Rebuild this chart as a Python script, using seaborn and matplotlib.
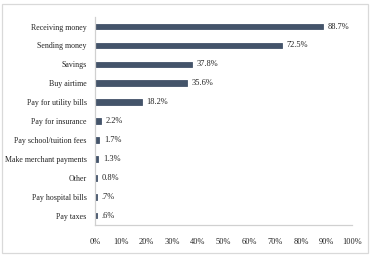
import pandas as pd
import matplotlib.pyplot as plt
import seaborn as sns
from matplotlib.patches import Rectangle

uses = ["Receiving money", "Sending money", "Savings", "Buy airtime",
        "Pay for utility bills", "Pay for insurance", "Pay school/tuition fees",
        "Make merchant payments", "Other", "Pay hospital bills", "Pay taxes"]
shares = [88.7, 72.5, 37.8, 35.6, 18.2, 2.2, 1.7, 1.3, 0.8, 0.7, 0.6]
value_labels = ["88.7%", "72.5%", "37.8%", "35.6%", "18.2%", "2.2%", "1.7%",
                "1.3%", "0.8%", ".7%", ".6%"]
xticks = [0, 10, 20, 30, 40, 50, 60, 70, 80, 90, 100]

sns.set_style("white")
plt.rcParams["font.family"] = ["Liberation Serif", "DejaVu Serif"]

df = pd.DataFrame({"use": uses, "share": shares})

fig = plt.figure(figsize=(3.71, 2.59), dpi=100)
ax = fig.add_axes([0.256, 0.131, 0.694, 0.803])

sns.barplot(data=df, x="share", y="use", orient="h", color="#44546a",
            saturation=1, width=0.3, edgecolor="#44546a", linewidth=0.6, ax=ax)

for i, (v, lab) in enumerate(zip(shares, value_labels)):
    ax.text(v + 1.8, i, lab, va="center", ha="left", fontsize=6.0, color="#222222")

ax.set_xlim(0, 100)
ax.set_ylim(10.5, -0.5)
ax.set_xticks(xticks)
ax.set_xticklabels([f"{t}%" for t in xticks], fontsize=6.0, color="#222222")
ax.tick_params(axis="y", labelsize=5.7, labelcolor="#222222", length=0, pad=6)
ax.tick_params(axis="x", length=0, pad=9)
ax.set_xlabel("")
ax.set_ylabel("")

for side in ["top", "right"]:
    ax.spines[side].set_visible(False)
for side in ["left", "bottom"]:
    ax.spines[side].set_color("#d0d0d0")
    ax.spines[side].set_linewidth(0.9)

# outer frame around the chart
fig.patches.append(Rectangle((0.005, 0.023), 0.986, 0.96, transform=fig.transFigure,
                             fill=False, edgecolor="#d9d9d9", linewidth=0.9))

plt.savefig("out.png", dpi=100)
